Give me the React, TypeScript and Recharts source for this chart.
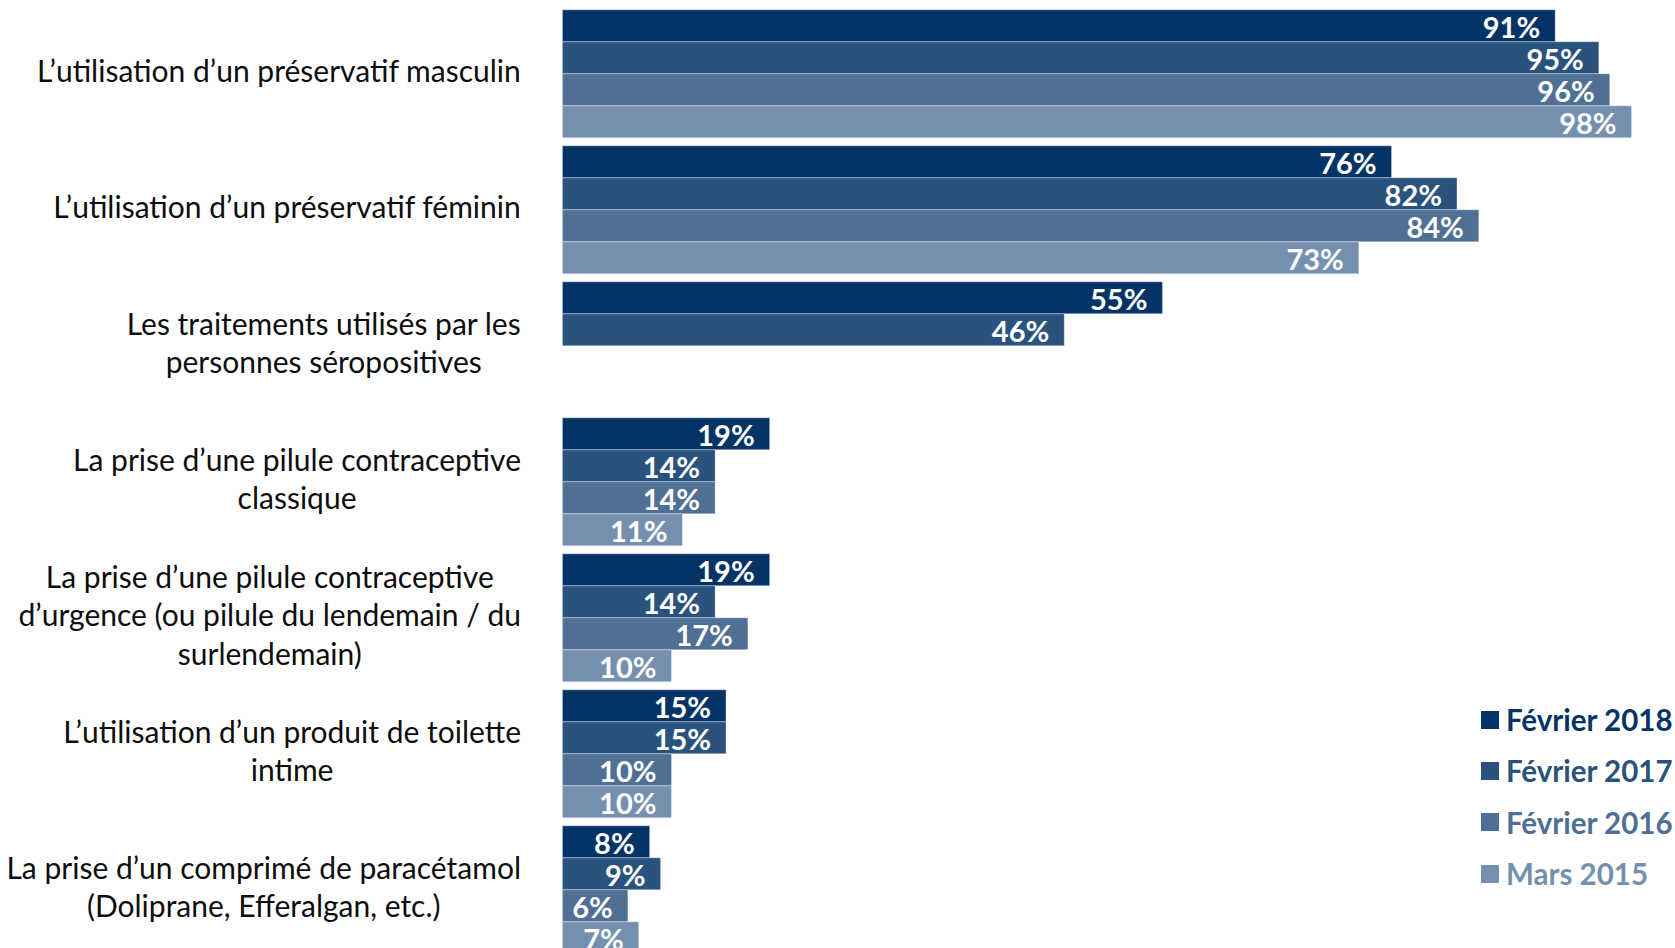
import React from "react";
import { BarChart, Bar, XAxis, YAxis, Legend, LabelList } from "recharts";

const categories = [
  "L’utilisation d’un préservatif masculin",
  "L’utilisation d’un préservatif féminin",
  "Les traitements utilisés par les\npersonnes séropositives",
  "La prise d’une pilule contraceptive\nclassique",
  "La prise d’une pilule contraceptive\nd’urgence (ou pilule du lendemain / du\nsurlendemain)",
  "L’utilisation d’un produit de toilette\nintime",
  "La prise d’un comprimé de paracétamol\n(Doliprane, Efferalgan, etc.)",
];

const fev2018 = [91, 76, 55, 19, 19, 15, 8];
const fev2017 = [95, 82, 46, 14, 14, 15, 9];
const fev2016 = [96, 84, null, 14, 17, 10, 6];
const mars2015 = [98, 73, null, 11, 10, 10, 7];

const seriesNames = ["Février 2018", "Février 2017", "Février 2016", "Mars 2015"];
const seriesKeys = ["fev2018", "fev2017", "fev2016", "mars2015"];
const seriesColors = ["#043465", "#29527c", "#4f6f94", "#7590ae"];

const data = categories.map((name, i) => ({
  name,
  fev2018: fev2018[i],
  fev2017: fev2017[i],
  fev2016: fev2016[i],
  mars2015: mars2015[i],
}));

const FONT = "Lato, 'Noto Sans', sans-serif";
const TICK_SIZE = 30;
const LINE_H = 38.5;
const LABEL_RIGHT = 521;

const ctx = document.createElement("canvas").getContext("2d");
const textWidth = (s: string, font: string) => {
  if (!ctx) return s.length * 12;
  ctx.font = font;
  return ctx.measureText(s).width;
};

function CategoryTick(props: any) {
  const { y, payload } = props;
  const lines: string[] = String(payload.value).split("\n");
  const widths = lines.map((l) => textWidth(l, `${TICK_SIZE}px ${FONT}`));
  const cx = LABEL_RIGHT - Math.max(...widths) / 2;
  const y0 = y - ((lines.length - 1) * LINE_H) / 2;
  return (
    <text textAnchor="middle" fontFamily={FONT} fontSize={TICK_SIZE} fill="#0d0d0d">
      {lines.map((l, i) => (
        <tspan key={i} x={cx} y={y0 + i * LINE_H} dy="0.3em">
          {l}
        </tspan>
      ))}
    </text>
  );
}

function ValueLabel(props: any) {
  const { x, y, width, height, value } = props;
  if (value == null) return null;
  return (
    <text
      x={x + width - 15}
      y={y + height / 2 + 2}
      dy="0.36em"
      textAnchor="end"
      fontFamily={FONT}
      fontWeight={700}
      fontSize={29}
      fill="#ffffff"
    >
      {value}%
    </text>
  );
}

function LegendBox(props: any) {
  const items = [...(props.payload || [])].sort(
    (a: any, b: any) => seriesNames.indexOf(a.value) - seriesNames.indexOf(b.value)
  );
  return (
    <div style={{ fontFamily: FONT, fontWeight: 700 }}>
      {items.map((e: any) => (
        <div key={e.value} style={{ display: "flex", alignItems: "center", height: 51.3 }}>
          <span style={{ width: 18, height: 18, background: e.color, marginRight: 7 }} />
          <span style={{ color: e.color, fontSize: 29.5, whiteSpace: "nowrap" }}>{e.value}</span>
        </div>
      ))}
    </div>
  );
}

export default function App() {
  return (
    <div
      style={{
        position: "absolute",
        left: 0,
        top: 0,
        width: 1675,
        height: 948,
        overflow: "hidden",
        background: "#fff",
      }}
    >
      <BarChart
        width={1675}
        height={957}
        data={data}
        layout="vertical"
        margin={{ top: 5, right: 21.6, left: 0, bottom: 0 }}
        barCategoryGap={4.8}
        barGap={0}
      >
        <XAxis type="number" domain={[0, 100]} hide />
        <YAxis
          type="category"
          dataKey="name"
          width={562.4}
          axisLine={false}
          tickLine={false}
          interval={0}
          tick={<CategoryTick />}
        />
        <Legend
          layout="vertical"
          align="center"
          verticalAlign="middle"
          content={<LegendBox />}
          wrapperStyle={{ left: 1481, top: 694, width: 194 }}
        />
        {seriesKeys.map((k, i) => (
          <Bar
            key={k}
            dataKey={k}
            name={seriesNames[i]}
            fill={seriesColors[i]}
            stroke="#ffffff"
            strokeOpacity={0.35}
            strokeWidth={1}
            isAnimationActive={false}
          >
            <LabelList dataKey={k} content={<ValueLabel />} />
          </Bar>
        ))}
      </BarChart>
    </div>
  );
}
